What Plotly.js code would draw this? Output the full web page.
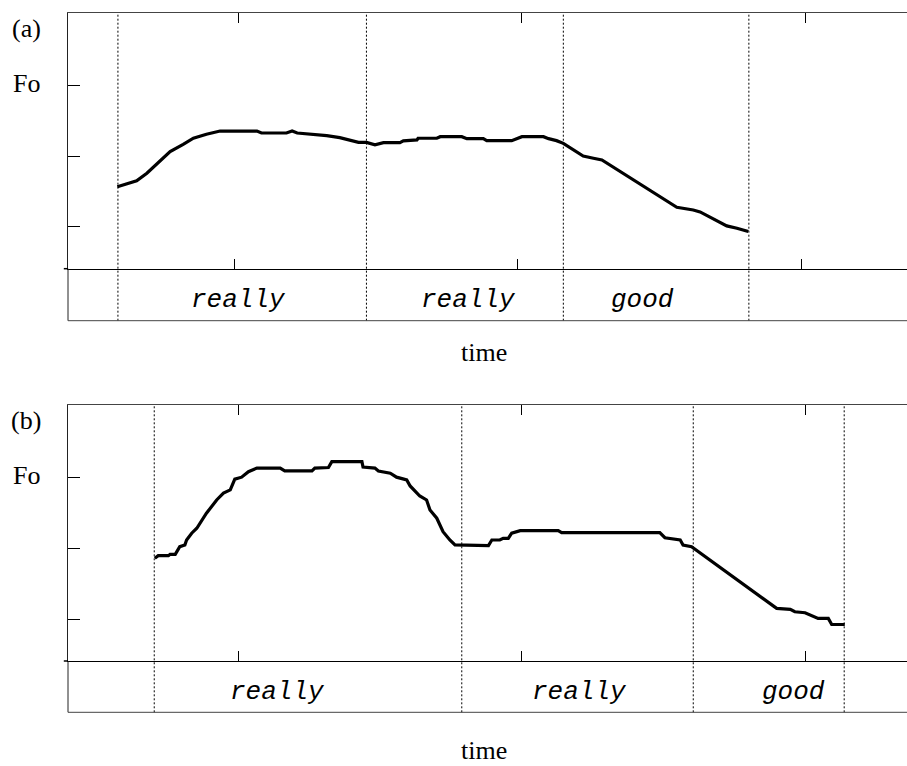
<!DOCTYPE html>
<html>
<head>
<meta charset="utf-8">
<script src="https://cdn.plot.ly/plotly-3.0.1.min.js"></script>
<style>html,body{margin:0;padding:0;background:#fff;}#chart{width:907px;height:766px;}</style>
</head>
<body>
<div id="chart"></div>
<script>
// ---- Data (time in s, Fo in Hz) ----
const timeA = [0.294,0.310,0.328,0.346,0.369,0.387,0.410,0.428,0.451,0.475,0.540,0.548,0.592,0.602,0.611,0.645,0.663,0.686,0.704,0.719,0.733,0.748,0.763,0.792,0.798,0.822,0.824,0.857,0.863,0.901,0.910,0.939,0.945,0.989,1.007,1.045,1.054,1.068,1.080,1.098,1.115,1.133,1.148,1.280,1.309,1.321,1.344,1.368,1.386,1.406];
const foA   = [128.5,130.2,132.6,138.0,146.2,153.3,158.5,162.8,165.6,167.9,167.9,166.5,166.5,167.9,166.5,165.6,164.6,163.2,161.6,159.9,159.9,158.2,159.7,159.7,160.9,161.6,162.8,162.8,163.9,163.9,162.5,162.5,161.1,161.1,163.9,163.9,162.5,161.1,159.2,154.5,150.2,148.6,147.4,113.9,112.0,110.6,105.7,100.7,99.1,96.7];
const boundsA = [0.295,0.733,1.080,1.407];
const wordsA = ['really','really','good'];
const wordPosA = [0.507,0.912,1.220];

const timeB = [0.353,0.359,0.377,0.380,0.389,0.397,0.406,0.409,0.418,0.427,0.444,0.462,0.474,0.486,0.494,0.506,0.518,0.533,0.574,0.582,0.630,0.635,0.659,0.665,0.718,0.720,0.741,0.747,0.768,0.779,0.797,0.803,0.820,0.832,0.838,0.850,0.861,0.873,0.882,0.941,0.947,0.961,0.967,0.976,0.982,0.997,1.064,1.070,1.243,1.252,1.279,1.284,1.299,1.449,1.473,1.481,1.499,1.508,1.522,1.540,1.546,1.569];
const foB   = [143.0,144.8,144.8,145.8,145.8,151.2,152.4,155.9,160.7,164.2,174.8,184.2,189.0,191.3,198.9,200.3,204.2,206.7,206.7,204.7,204.7,206.7,207.1,211.3,211.3,207.4,206.7,204.7,203.1,200.3,198.4,194.1,187.0,184.2,177.1,171.3,161.8,155.9,152.4,151.9,155.9,155.9,157.1,157.1,160.7,162.5,162.5,161.1,161.1,157.5,155.9,152.4,151.2,107.6,106.9,105.2,104.5,102.8,100.5,100.5,96.2,96.2];
const boundsB = [0.352,0.894,1.302,1.568];
const wordsB = ['really','really','good'];
const wordPosB = [0.570,1.101,1.478];

const tickTimes = [0.5, 1.0, 1.5];
const tickFo = [100, 150, 200];
const panelLabels = ['(a)', '(b)'];
const yLabel = 'Fo';
const xLabel = 'time';

// ---- Styles ----
const serif = 'Liberation Serif, Times New Roman, serif';
const mono = 'Liberation Mono, Courier New, monospace';
const curveLine = {color: '#000', width: 3.2};

const traces = [
  {x: timeA, y: foA, xaxis: 'x', yaxis: 'y', type: 'scatter', mode: 'lines', line: curveLine, hoverinfo: 'skip'},
  {x: timeB, y: foB, xaxis: 'x2', yaxis: 'y2', type: 'scatter', mode: 'lines', line: curveLine, hoverinfo: 'skip'},
  {x: [], y: [], xaxis: 'x3', yaxis: 'y', type: 'scatter', mode: 'lines'},
  {x: [], y: [], xaxis: 'x4', yaxis: 'y2', type: 'scatter', mode: 'lines'}
];

function xAx(range, extra) {
  return Object.assign({
    range: range, tickvals: tickTimes, ticks: 'inside', ticklen: 10, tickwidth: 1, tickcolor: '#000',
    showticklabels: false, showgrid: false, zeroline: false,
    showline: true, linecolor: '#000', linewidth: 1.5, fixedrange: true
  }, extra);
}
function yAx(domain, extra) {
  return Object.assign({
    domain: domain, range: [70.4, 251.3], tickvals: tickFo, ticks: 'inside', ticklen: 12, tickwidth: 1, tickcolor: '#000',
    showticklabels: false, showgrid: false, zeroline: false,
    showline: true, linecolor: '#222', linewidth: 1, fixedrange: true
  }, extra);
}

const rangeA = [0.207, 1.6857];
const rangeB = [0.2, 1.6787];

function panelShapes(xr, yr, bounds, stripBottom) {
  const s = [];
  bounds.forEach(b => s.push({type: 'line', xref: xr, yref: yr + ' domain', x0: b, x1: b, y0: stripBottom, y1: 1,
    line: {color: '#000', width: 1, dash: '2px,2px'}}));
  s.push({type: 'line', xref: xr + ' domain', yref: yr + ' domain', x0: 0, x1: 0, y0: stripBottom, y1: 0, line: {color: '#222', width: 1}});
  s.push({type: 'line', xref: xr + ' domain', yref: yr + ' domain', x0: 0, x1: 1, y0: stripBottom, y1: stripBottom, line: {color: '#444', width: 1}});
  s.push({type: 'line', xref: xr + ' domain', yref: yr + ' domain', x0: -0.005, x1: 0, y0: 0, y1: 0, line: {color: '#000', width: 1.5}});
  return s;
}

function panelAnnots(xr, yr, words, pos, label, labelY, timeY, wordY) {
  const a = [];
  words.forEach((w, i) => a.push({xref: xr, yref: yr + ' domain', x: pos[i], y: wordY, text: w, showarrow: false,
    xanchor: 'center', yanchor: 'middle', font: {family: mono, size: 26, color: '#000', style: 'italic'}}));
  a.push({xref: xr + ' domain', yref: yr + ' domain', x: -0.05, y: labelY, text: label, showarrow: false,
    xanchor: 'center', yanchor: 'middle', font: {family: serif, size: 26, color: '#000'}});
  a.push({xref: xr + ' domain', yref: yr, x: -0.049, y: tickFo[tickFo.length - 1], yshift: 2.3, text: yLabel, showarrow: false,
    xanchor: 'center', yanchor: 'middle', font: {family: serif, size: 26, color: '#000'}});
  a.push({xref: xr + ' domain', yref: yr + ' domain', x: 0.496, y: timeY, text: xLabel, showarrow: false,
    xanchor: 'center', yanchor: 'middle', font: {family: serif, size: 26, color: '#000'}});
  return a;
}

const layout = {
  width: 907, height: 766,
  margin: {l: 68, r: 0, t: 0, b: 0, pad: 0},
  paper_bgcolor: '#fff', plot_bgcolor: '#fff',
  showlegend: false,
  xaxis: xAx(rangeA, {anchor: 'y'}),
  yaxis: yAx([0.64922, 0.98264], {anchor: 'x'}),
  xaxis3: xAx([0.2, 1.6787], {anchor: 'y', overlaying: 'x', side: 'top', linecolor: '#444', linewidth: 1}),
  xaxis2: xAx(rangeB, {anchor: 'y2'}),
  yaxis2: yAx([0.13708, 0.47128], {anchor: 'x2'}),
  xaxis4: xAx(rangeB, {anchor: 'y2', overlaying: 'x2', side: 'top', linecolor: '#444', linewidth: 1}),
  shapes: panelShapes('x', 'y', boundsA, -0.2036).concat(panelShapes('x2', 'y2', boundsB, -0.2004)),
  annotations: panelAnnots('x', 'y', wordsA, wordPosA, panelLabels[0], 0.9393, -0.3273, -0.1226)
    .concat(panelAnnots('x2', 'y2', wordsB, wordPosB, panelLabels[1], 0.9395, -0.3512, -0.1195))
};

Plotly.newPlot('chart', traces, layout, {displayModeBar: false, staticPlot: true});
</script>
</body>
</html>
